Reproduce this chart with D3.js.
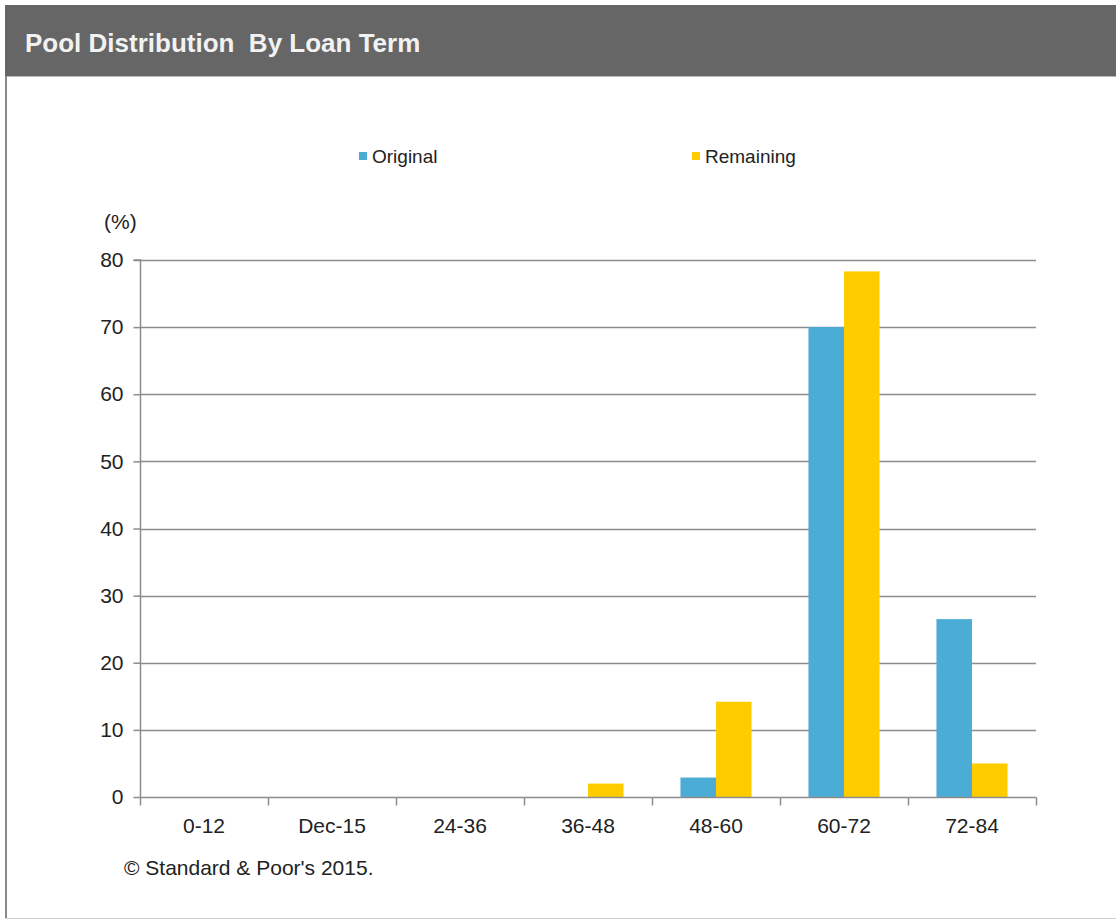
<!DOCTYPE html>
<html>
<head>
<meta charset="utf-8">
<script src="https://cdn.jsdelivr.net/npm/d3@7"></script>
<style>
  html, body { margin: 0; padding: 0; background: #fff; }
  svg { display: block; font-family: "Liberation Sans", Arial, sans-serif; }
</style>
</head>
<body>
<svg id="chart" width="1116" height="920"></svg>
<script>
// Loan term buckets and pool shares (%)
const categories = ["0-12", "Dec-15", "24-36", "36-48", "48-60", "60-72", "72-84"];
const seriesNames = ["Original", "Remaining"];
const original  = [0, 0, 0, 0, 2.9, 70.0, 26.5];
const remaining = [0, 0, 0, 2.0, 14.2, 78.3, 5.0];
const yTicks = [0, 10, 20, 30, 40, 50, 60, 70, 80];
const colors = ["#4BACD6", "#FFCC00"];

const svg = d3.select("#chart");

// Frame and header band
svg.append("rect").attr("x", 5).attr("y", 5).attr("width", 1111).attr("height", 71).attr("fill", "#666666");
svg.append("line").attr("x1", 5).attr("x2", 1116).attr("y1", 76.5).attr("y2", 76.5).attr("stroke", "#b8b8b8");
svg.append("line").attr("x1", 6).attr("x2", 6).attr("y1", 76).attr("y2", 918).attr("stroke", "#8a8a8a").attr("stroke-width", 2);
svg.append("line").attr("x1", 5).attr("x2", 1116).attr("y1", 918.5).attr("y2", 918.5).attr("stroke", "#cfcfcf");

svg.append("text")
  .attr("x", 25).attr("y", 52)
  .attr("fill", "#f2f2f2")
  .attr("font-size", 26)
  .attr("font-weight", "bold")
  .style("white-space", "pre")
  .text("Pool Distribution  By Loan Term");

// Plot area
const plotLeft = 140, plotRight = 1036, plotTop = 260, plotBottom = 797;

const x0 = d3.scaleBand().domain(categories).range([plotLeft, plotRight]).paddingInner(0).paddingOuter(0);
const x1 = d3.scaleBand().domain(seriesNames).range([0, x0.bandwidth()]).paddingInner(0).paddingOuter(0.8);
const y = d3.scaleLinear().domain([0, 80]).range([plotBottom, plotTop]);

// Horizontal gridlines
svg.append("g")
  .selectAll("line")
  .data(yTicks.filter(d => d > 0))
  .join("line")
  .attr("x1", plotLeft).attr("x2", plotRight)
  .attr("y1", d => Math.round(y(d)) + 0.5).attr("y2", d => Math.round(y(d)) + 0.5)
  .attr("stroke", "#8c8c8c").attr("stroke-width", 1.3);

// Bars
const rows = categories.map((c, i) => ({ cat: c, vals: [original[i], remaining[i]] }));
svg.append("g")
  .selectAll("g")
  .data(rows)
  .join("g")
  .attr("transform", d => `translate(${x0(d.cat)},0)`)
  .selectAll("rect")
  .data(d => d.vals.map((v, j) => ({ name: seriesNames[j], v, j })).filter(e => e.v > 0))
  .join("rect")
  .attr("x", d => x1(d.name))
  .attr("width", x1.bandwidth())
  .attr("y", d => y(d.v))
  .attr("height", d => y(0) - y(d.v))
  .attr("fill", d => colors[d.j]);

// Y axis
const yAxis = d3.axisLeft(y).tickValues(yTicks).tickSize(7).tickPadding(10).tickFormat(d3.format("d"));
const gy = svg.append("g").attr("transform", `translate(${plotLeft + 0.5},0)`).call(yAxis);
gy.select(".domain").attr("stroke", "#8c8c8c").attr("stroke-width", 1.5).attr("d", `M-7,${plotTop}H0V${plotBottom}`);
gy.selectAll(".tick line").attr("stroke", "#8c8c8c").attr("stroke-width", 1.5);
gy.selectAll(".tick text").attr("font-size", 21).attr("fill", "#222").attr("font-family", "Liberation Sans, Arial, sans-serif");

// X axis with ticks at category boundaries
const xAxisG = svg.append("g").attr("transform", `translate(0,${plotBottom + 0.5})`);
xAxisG.append("line").attr("x1", plotLeft).attr("x2", plotRight + 0.5).attr("stroke", "#8c8c8c").attr("stroke-width", 1.5);
const bounds = categories.map(c => x0(c)).concat([plotRight]);
xAxisG.selectAll("line.tick")
  .data(bounds)
  .join("line")
  .attr("class", "tick")
  .attr("x1", d => d + 0.5).attr("x2", d => d + 0.5)
  .attr("y1", 0).attr("y2", 8)
  .attr("stroke", "#8c8c8c").attr("stroke-width", 1.5);
xAxisG.selectAll("text")
  .data(categories)
  .join("text")
  .attr("x", d => x0(d) + x0.bandwidth() / 2)
  .attr("y", 35)
  .attr("text-anchor", "middle")
  .attr("font-size", 21)
  .attr("fill", "#222")
  .text(d => d);

// Unit label
svg.append("text").attr("x", 104).attr("y", 229).attr("font-size", 21).attr("fill", "#222").text("(%)");

// Legend
const legendX = [359, 692];
const lg = svg.append("g").selectAll("g").data(seriesNames).join("g")
  .attr("transform", (d, i) => `translate(${legendX[i]},152)`);
lg.append("rect").attr("width", 8).attr("height", 8).attr("fill", (d, i) => colors[i]);
lg.append("text").attr("x", 13).attr("y", 11).attr("font-size", 19).attr("fill", "#222").text(d => d);

// Source note
svg.append("text").attr("x", 124).attr("y", 875).attr("font-size", 21).attr("fill", "#222").text("© Standard & Poor's 2015.");
</script>
</body>
</html>
